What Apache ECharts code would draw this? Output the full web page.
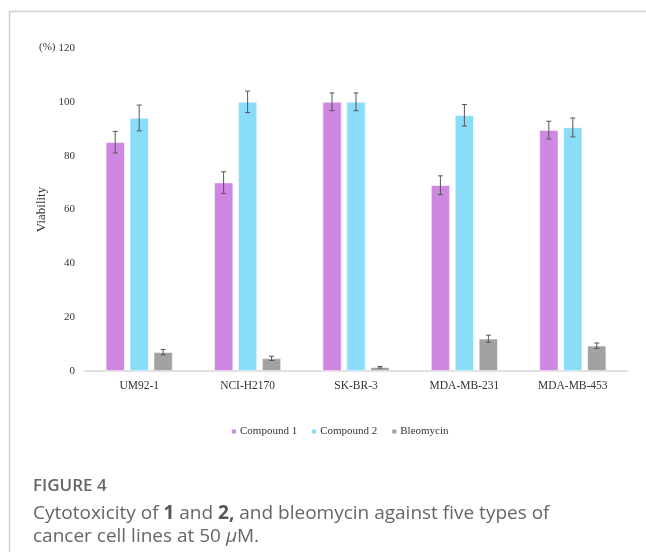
<!DOCTYPE html>
<html>
<head>
<meta charset="utf-8">
<script src="https://cdn.jsdelivr.net/npm/echarts@6/dist/echarts.min.js"></script>
<style>
  html, body { margin: 0; padding: 0; background: #fff; }
  #chart { width: 646px; height: 552px; }
</style>
</head>
<body>
<div id="chart"></div>
<script>
// Cell lines on the x axis
const cellLines = ['UM92-1', 'NCI-H2170', 'SK-BR-3', 'MDA-MB-231', 'MDA-MB-453'];

// Viability (%) at 50 µM, with standard deviations
const compound1 = [85, 70, 100, 69, 89.5];
const compound1Err = [4, 4, 3.3, 3.5, 3.3];
const compound2 = [94, 100, 100, 95, 90.5];
const compound2Err = [4.8, 4, 3.3, 4, 3.5];
const bleomycin = [7, 4.7, 1.4, 12, 9.4];
const bleomycinErr = [1, 0.8, 0.3, 1.3, 1];

const yTicks = [0, 20, 40, 60, 80, 100, 120];

const seriesNames = ['Compound 1', 'Compound 2', 'Bleomycin'];
const colors = ['#cf88e2', '#8addf9', '#a2a2a2'];

const serif = '"Liberation Serif", "DejaVu Serif", serif';
const BAR_W = 19;
const BAR_STEP = 24;

function errorSeries(values, errs, slot) {
  return {
    type: 'custom',
    name: seriesNames[slot + 1] + ' error',
    z: 5,
    silent: true,
    data: values.map((v, i) => [i, v - errs[i], v + errs[i]]),
    renderItem: function (params, api) {
      const lo = api.coord([api.value(0), api.value(1)]);
      const hi = api.coord([api.value(0), api.value(2)]);
      const x = lo[0] + slot * BAR_STEP;
      const cap = 2.5;
      const style = { stroke: '#555', lineWidth: 1 };
      return {
        type: 'group',
        children: [
          { type: 'line', shape: { x1: x, y1: lo[1], x2: x, y2: hi[1] }, style: style },
          { type: 'line', shape: { x1: x - cap, y1: lo[1], x2: x + cap, y2: lo[1] }, style: style },
          { type: 'line', shape: { x1: x - cap, y1: hi[1], x2: x + cap, y2: hi[1] }, style: style }
        ]
      };
    }
  };
}

function barSeries(name, values, color) {
  return {
    type: 'bar',
    name: name,
    data: values,
    barWidth: BAR_W,
    barGap: '26%',
    itemStyle: { color: color, borderColor: '#ffffff', borderWidth: 0.6 }
  };
}

const chart = echarts.init(document.getElementById('chart'));
chart.setOption({
  animation: false,
  backgroundColor: '#ffffff',
  grid: { left: 85, right: 19, top: 48, bottom: 181 },
  legend: {
    data: seriesNames,
    top: 421,
    left: 225,
    itemWidth: 6,
    itemHeight: 6,
    itemGap: 13,
    icon: 'rect',
    textStyle: { fontFamily: serif, fontSize: 11, color: '#333', padding: [0, 0, 0, -2] }
  },
  xAxis: {
    type: 'category',
    data: cellLines,
    axisLine: { lineStyle: { color: '#d6d6d6', width: 1.5 } },
    axisTick: { show: false },
    axisLabel: { fontFamily: serif, fontSize: 11.5, color: '#333', margin: 9 }
  },
  yAxis: {
    type: 'value',
    min: 0,
    max: yTicks[yTicks.length - 1],
    interval: yTicks[1] - yTicks[0],
    name: 'Viability',
    nameLocation: 'middle',
    nameGap: 29,
    nameRotate: 90,
    nameTextStyle: { fontFamily: serif, fontSize: 13, color: '#333' },
    axisLine: { show: false },
    axisTick: { show: false },
    splitLine: { show: false },
    axisLabel: { fontFamily: serif, fontSize: 11, color: '#333', margin: 10 }
  },
  series: [
    barSeries(seriesNames[0], compound1, colors[0]),
    barSeries(seriesNames[1], compound2, colors[1]),
    barSeries(seriesNames[2], bleomycin, colors[2]),
    errorSeries(compound1, compound1Err, -1),
    errorSeries(compound2, compound2Err, 0),
    errorSeries(bleomycin, bleomycinErr, 1)
  ],
  graphic: [
    // frame lines along the top and left edges
    { type: 'line', shape: { x1: 9, y1: 11.5, x2: 646, y2: 11.5 }, style: { stroke: '#cfcfcf', lineWidth: 1.5 } },
    { type: 'line', shape: { x1: 9.5, y1: 11, x2: 9.5, y2: 552 }, style: { stroke: '#cfcfcf', lineWidth: 1.5 } },
    // unit label beside the top tick
    { type: 'text', left: 39, top: 42, style: { text: '(%)', font: '11px ' + serif, fill: '#333' } },
    // caption
    { type: 'text', left: 33, top: 478, style: { text: 'FIGURE 4', font: '600 17px "Open Sans"', fill: '#666' } },
    {
      type: 'text', left: 33, top: 502,
      style: {
        text: '{n|Cytotoxicity of }{b|1}{n| and }{b|2,}{n| and bleomycin against five types of}\n{n|cancer cell lines at 50 }{i|μ}{n|M.}',
        lineHeight: 23,
        rich: {
          n: { font: '19px "Open Sans"', fill: '#666', lineHeight: 23 },
          b: { font: 'bold 19px "Open Sans"', fill: '#555', lineHeight: 23 },
          i: { font: 'italic 19px "Open Sans"', fill: '#666', lineHeight: 23 }
        }
      }
    }
  ]
});
</script>
</body>
</html>
